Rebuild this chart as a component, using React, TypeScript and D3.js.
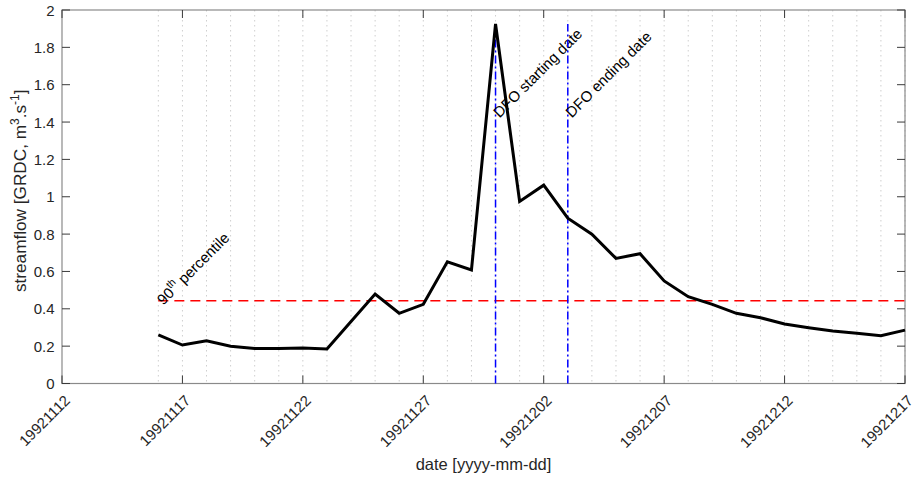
import React from "react";
import * as d3 from "d3";

const dates = [
  "19921116", "19921117", "19921118", "19921119", "19921120", "19921121", "19921122", "19921123",
  "19921124", "19921125", "19921126", "19921127", "19921128", "19921129", "19921130",
  "19921201", "19921202", "19921203", "19921204", "19921205", "19921206", "19921207", "19921208",
  "19921209", "19921210", "19921211", "19921212", "19921213", "19921214", "19921215", "19921216", "19921217",
];
const streamflow = [
  0.26, 0.206, 0.229, 0.2, 0.188, 0.187, 0.19, 0.185, 0.332, 0.479, 0.376, 0.424, 0.652, 0.608, 1.925,
  0.975, 1.062, 0.885, 0.799, 0.67, 0.695, 0.549, 0.465, 0.424, 0.376, 0.352, 0.319, 0.299, 0.281, 0.269, 0.256, 0.286,
];
const xTickLabels = ["19921112", "19921117", "19921122", "19921127", "19921202", "19921207", "19921212", "19921217"];
const yTicks = [0, 0.2, 0.4, 0.6, 0.8, 1, 1.2, 1.4, 1.6, 1.8, 2];
const percentile90 = 0.443;
const dfoStart = "19921130";
const dfoEnd = "19921203";
const dfoLabels = ["DFO starting date", "DFO ending date"];

const W = 915, H = 480;
const M = { left: 62, right: 10, top: 10, bottom: 96.5 };
const parse = d3.utcParse("%Y%m%d");
const FONT = "'Liberation Sans', Arial, Helvetica, sans-serif";

export default function App() {
  const x = d3
    .scaleUtc()
    .domain([parse(xTickLabels[0])!, parse(xTickLabels[xTickLabels.length - 1])!])
    .range([M.left, W - M.right]);
  const y = d3.scaleLinear().domain([0, 2]).range([H - M.bottom, M.top]);
  const x0 = M.left, x1 = W - M.right, y0 = H - M.bottom, y1 = M.top;
  const pts: [number, number][] = dates.map((d, i) => [x(parse(d)!), y(streamflow[i])]);
  const line = d3.line();
  const maxV = d3.max(streamflow)!;
  const tickLen = 8;
  const axisCol = "#8a8a8a";
  const tickCol = "#3a3a3a";
  const txtCol = "#262626";
  const pFirst = x(parse(dates[0])!);
  const pLast = x(parse(dates[dates.length - 1])!);

  return (
    <svg width={W} height={H} style={{ position: "absolute", left: 0, top: 0, background: "#fff" }} fontFamily={FONT}>
      {/* daily dotted grid */}
      {dates.map((d) => (
        <line key={"g" + d} x1={x(parse(d)!)} x2={x(parse(d)!)} y1={y1} y2={y0} stroke="#cfcfcf" strokeWidth={1} strokeDasharray="1.5,3.5" />
      ))}
      {/* box */}
      <rect x={x0} y={y1} width={x1 - x0} height={y0 - y1} fill="none" stroke={axisCol} strokeWidth={1.2} />
      {/* x ticks */}
      {xTickLabels.map((t) => {
        const xx = x(parse(t)!);
        return (
          <g key={"xt" + t}>
            <line x1={xx} x2={xx} y1={y0} y2={y0 - tickLen} stroke={tickCol} strokeWidth={1} />
            <line x1={xx} x2={xx} y1={y1} y2={y1 + tickLen} stroke={tickCol} strokeWidth={1} />
            <text
              transform={`translate(${xx + 9},${y0 + 18}) rotate(-45)`}
              textAnchor="end"
              fontSize={15}
              fill={txtCol}
            >
              {t}
            </text>
          </g>
        );
      })}
      {/* y ticks */}
      {yTicks.map((v) => (
        <g key={"yt" + v}>
          <line x1={x0} x2={x0 + tickLen} y1={y(v)} y2={y(v)} stroke={tickCol} strokeWidth={1} />
          <line x1={x1} x2={x1 - tickLen} y1={y(v)} y2={y(v)} stroke={tickCol} strokeWidth={1} />
          <text x={x0 - 7.5} y={y(v)} textAnchor="end" dominantBaseline="central" fontSize={15} fill={txtCol}>
            {d3.format("~g")(v)}
          </text>
        </g>
      ))}
      {/* 90th percentile */}
      <line x1={pFirst} x2={pLast} y1={y(percentile90)} y2={y(percentile90)} stroke="#ff0000" strokeWidth={1.5} strokeDasharray="10,6" />
      <text transform={`translate(${pFirst + 5},${y(percentile90) + 5}) rotate(-45)`} fontSize={15} fill="#000">
        90<tspan fontSize={10.5} dy={-7}>th</tspan>
        <tspan dy={7}>{"  percentile"}</tspan>
      </text>
      {/* DFO lines */}
      {[dfoStart, dfoEnd].map((d, i) => {
        const xx = x(parse(d)!);
        return (
          <g key={"dfo" + d}>
            <line x1={xx} x2={xx} y1={y(0)} y2={y(maxV)} stroke="#0000ff" strokeWidth={1.5} strokeDasharray="8,3,2,3" />
            <text transform={`translate(${xx + 4},${y(1.43) + 2}) rotate(-45)`} fontSize={15} fill="#000">
              {dfoLabels[i]}
            </text>
          </g>
        );
      })}
      {/* streamflow */}
      <path d={line(pts)!} fill="none" stroke="#000" strokeWidth={3} strokeLinejoin="miter" />
      {/* axis labels */}
      <text x={(x0 + x1) / 2} y={470} textAnchor="middle" fontSize={16.5} fill={txtCol}>
        date [yyyy-mm-dd]
      </text>
      <text transform={`translate(26,${(y0 + y1) / 2 - 6}) rotate(-90)`} textAnchor="middle" fontSize={17.2} fill={txtCol}>
        streamflow [GRDC, m<tspan fontSize={12} dy={-7}>3</tspan>
        <tspan dy={7}>.s</tspan>
        <tspan fontSize={12} dy={-7}>-1</tspan>
        <tspan dy={7}>]</tspan>
      </text>
    </svg>
  );
}
